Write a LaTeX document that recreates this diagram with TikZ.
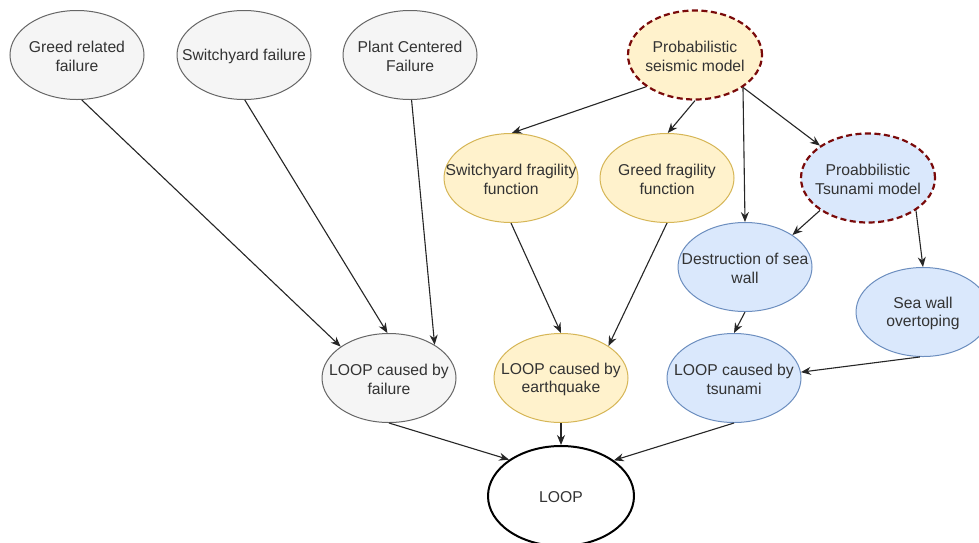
\documentclass[tikz,border=0pt]{standalone}
\usepackage{fontspec}
\setmainfont{Liberation Sans}
\usetikzlibrary{shapes.geometric,arrows.meta}
\definecolor{greyfill}{HTML}{F5F5F5}
\definecolor{greyline}{HTML}{666666}
\definecolor{yelfill}{HTML}{FFF2CC}
\definecolor{yelline}{HTML}{D6B656}
\definecolor{bluefill}{HTML}{DAE8FC}
\definecolor{blueline}{HTML}{6C8EBF}
\definecolor{darkred}{HTML}{7A0A0A}
\definecolor{txt}{HTML}{333333}
\begin{document}
\begin{tikzpicture}[x=1pt,y=-1pt,
  base/.style={ellipse, draw, minimum width=134pt, minimum height=89pt, inner sep=0pt, line width=1pt},
  greynode/.style={base, fill=greyfill, draw=greyline},
  yelnode/.style={base, fill=yelfill, draw=yelline},
  bluenode/.style={base, fill=bluefill, draw=blueline},
  dashnode/.style={draw=darkred, line width=2.2pt, dash pattern=on 6pt off 3.5pt},
  lblsty/.style={text=txt, align=center, inner sep=0pt, yshift=-1.5pt, font=\fontsize{15.7}{18.5}\selectfont},
  lbl/.style={label={[lblsty]center:#1}},
  arr/.style={-{Stealth[length=10pt,width=8pt]}, line width=1.1pt, draw=black!85}
]
\useasboundingbox (0,0) rectangle (979,542);
\clip (0,0) rectangle (979,542);
\fill[white] (0,0) rectangle (979,542);

\node[greynode, lbl={Greed related\\failure}] (g1) at (77,55) {};
\node[greynode, lbl={Switchyard failure}] (g2) at (244,55) {};
\node[greynode, lbl={Plant Centered\\Failure}] (g3) at (410,55) {};
\node[yelnode, dashnode, lbl={Probabilistic\\seismic model}] (sm) at (695,55) {};
\node[yelnode, lbl={Switchyard fragility\\function}] (sf) at (511,178) {};
\node[yelnode, lbl={Greed fragility\\function}] (gf) at (667,178) {};
\node[bluenode, dashnode, lbl={Proabbilistic\\Tsunami model}] (tm) at (868,178) {};
\node[bluenode, lbl={Destruction of sea\\wall}] (ds) at (745,267) {};
\node[bluenode, lbl={Sea wall\\overtoping}] (ov) at (923,312) {};
\node[greynode, lbl={LOOP caused by\\failure}] (lf) at (389,378) {};
\node[yelnode, lbl={LOOP caused by\\earthquake}] (le) at (561,378) {};
\node[bluenode, lbl={LOOP caused by\\tsunami}] (lt) at (734,378) {};
\node[base, fill=white, draw=black, line width=2pt, minimum width=146pt, minimum height=100pt, lbl={LOOP}] (lp) at (561,496) {};

\draw[arr] (g1.276) -- (lf.147);
\draw[arr] (g2.271) -- (lf.92);
\draw[arr] (g3.272) -- (lf.36);
\draw[arr] (sm.213) -- (sf.89);
\draw[arr] (sm.270) -- (gf.89);
\draw[arr] (sm.326) -- (ds.90);
\draw[arr] (sm.326) -- (tm.146);
\draw[arr] (tm.214) -- (ds.34);
\draw[arr] (tm.326) -- (ov.90);
\draw[arr] (sf.270) -- (le.90);
\draw[arr] (gf.270) -- (le.34);
\draw[arr] (ds.270) -- (lt.90);
\draw[arr] (ov.266) -- (lt.5);
\draw[arr] (lf.270) -- (lp.145);
\draw[arr] (le.270) -- (lp.90);
\draw[arr] (lt.270) -- (lp.34);
\end{tikzpicture}
\end{document}
